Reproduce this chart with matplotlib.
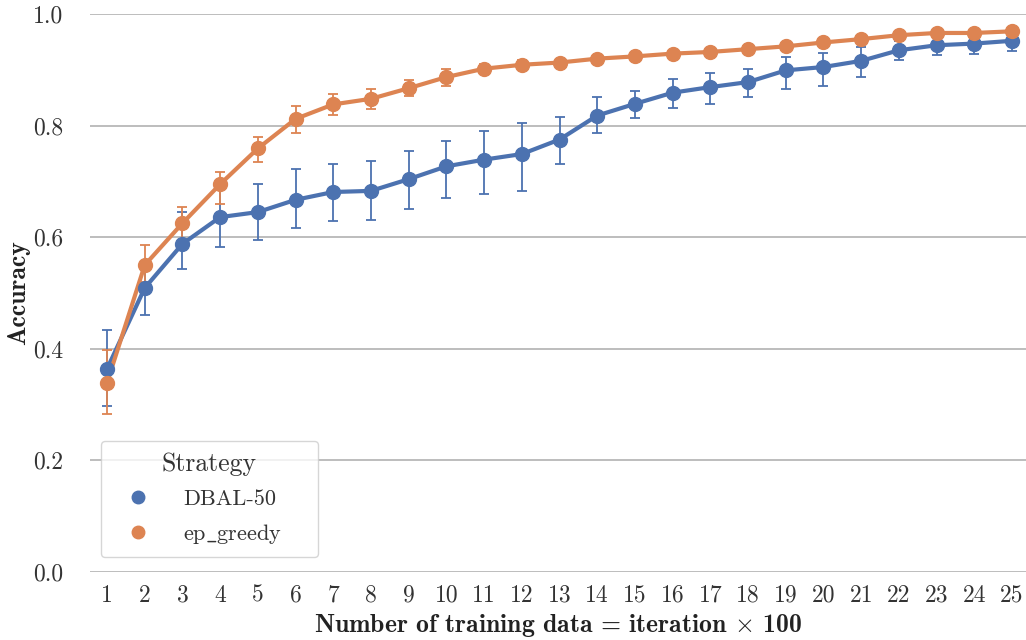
import matplotlib
matplotlib.use("Agg")
import matplotlib.pyplot as plt
import numpy as np

plt.rcParams['font.family'] = ['cmr10', 'DejaVu Serif']
plt.rcParams['mathtext.fontset'] = 'cm'
plt.rcParams['axes.formatter.use_mathtext'] = True

iterations = list(range(1, 26))

dbal_mean = [0.364, 0.509, 0.588, 0.636, 0.645, 0.667, 0.681, 0.683, 0.704, 0.727,
             0.739, 0.749, 0.775, 0.818, 0.839, 0.859, 0.869, 0.878, 0.899, 0.905,
             0.916, 0.935, 0.944, 0.947, 0.952]
dbal_lo = [0.298, 0.461, 0.543, 0.582, 0.595, 0.616, 0.629, 0.631, 0.651, 0.671,
           0.678, 0.683, 0.731, 0.786, 0.814, 0.831, 0.839, 0.851, 0.866, 0.871,
           0.887, 0.918, 0.926, 0.929, 0.934]
dbal_hi = [0.434, 0.556, 0.645, 0.690, 0.696, 0.722, 0.731, 0.737, 0.755, 0.772,
           0.791, 0.804, 0.816, 0.852, 0.862, 0.884, 0.895, 0.902, 0.923, 0.931,
           0.941, 0.951, 0.960, 0.964, 0.968]

eg_mean = [0.339, 0.550, 0.625, 0.695, 0.759, 0.812, 0.838, 0.848, 0.867, 0.887,
           0.902, 0.909, 0.913, 0.920, 0.924, 0.929, 0.932, 0.937, 0.942, 0.949,
           0.955, 0.962, 0.966, 0.966, 0.969]
eg_lo = [0.283, 0.519, 0.594, 0.659, 0.735, 0.786, 0.819, 0.830, 0.853, 0.871,
         0.893, 0.901, 0.906, 0.914, 0.918, 0.924, 0.927, 0.932, 0.937, 0.944,
         0.950, 0.958, 0.962, 0.962, 0.965]
eg_hi = [0.398, 0.586, 0.654, 0.717, 0.780, 0.836, 0.856, 0.866, 0.882, 0.902,
         0.911, 0.917, 0.920, 0.926, 0.930, 0.934, 0.937, 0.942, 0.947, 0.954,
         0.960, 0.966, 0.970, 0.970, 0.973]

series = [
    ("DBAL-50", dbal_mean, dbal_lo, dbal_hi, "#4C72B0"),
    ("ep$\\_$greedy", eg_mean, eg_lo, eg_hi, "#DD8452"),
]

fig = plt.figure(figsize=(10.26, 6.4), dpi=100)
ax = fig.add_axes([90 / 1026, 68 / 640, 936 / 1026, 558 / 640])

x = np.arange(len(iterations))
handles = []
for name, m, lo, hi, c in series:
    m = np.array(m); lo = np.array(lo); hi = np.array(hi)
    ax.errorbar(x, m, yerr=[m - lo, hi - m], fmt='none', ecolor=c,
                elinewidth=1.3, capsize=3.5, capthick=1.3, zorder=3)
    ax.plot(x, m, color=c, linewidth=3.0, zorder=4)
    ax.plot(x, m, 'o', color=c, markersize=10, zorder=5)
    h, = ax.plot([], [], 'o', color=c, markersize=9, linestyle='none', label=name)
    handles.append(h)

ax.set_xlim(-0.451, 24.37)
ax.set_ylim(0, 1.0)
ax.set_xticks(x)
ax.set_xticklabels([str(i) for i in iterations])
ax.set_yticks([0.0, 0.2, 0.4, 0.6, 0.8, 1.0])
ax.set_yticklabels(["0.0", "0.2", "0.4", "0.6", "0.8", "1.0"])
ax.tick_params(axis='both', length=0, labelsize=17, labelcolor='#333333')
ax.tick_params(axis='x', pad=9)
ax.tick_params(axis='y', pad=19)
ax.yaxis.grid(True, color='#b8b8b8', linewidth=1.3)
ax.xaxis.grid(False)
ax.set_axisbelow(True)
for s in ax.spines.values():
    s.set_visible(False)

ax.set_xlabel(r"Number of training data = iteration $\times$ 100",
              fontsize=18.5, color='#222222', labelpad=4, fontfamily=['cmb10', 'DejaVu Serif'])
ax.set_ylabel("Accuracy", fontsize=18.5, color='#222222', labelpad=2,
              fontfamily=['cmb10', 'DejaVu Serif'])

leg = ax.legend(handles=handles, title="Strategy", loc='lower left',
                bbox_to_anchor=(0.01175, 0.0269, 0.2318, 0.2), mode='expand',
                fontsize=16, title_fontsize=18.5, handlelength=2.3,
                handletextpad=0.9, borderpad=0.5, labelspacing=0.6,
                frameon=True, fancybox=True, framealpha=0.8, borderaxespad=0.0)
leg.get_frame().set_edgecolor('#cccccc')
leg.get_frame().set_linewidth(1.0)
for t in leg.get_texts():
    t.set_color('#333333')
leg.get_title().set_color('#333333')

fig.savefig("out.png", dpi=100)
